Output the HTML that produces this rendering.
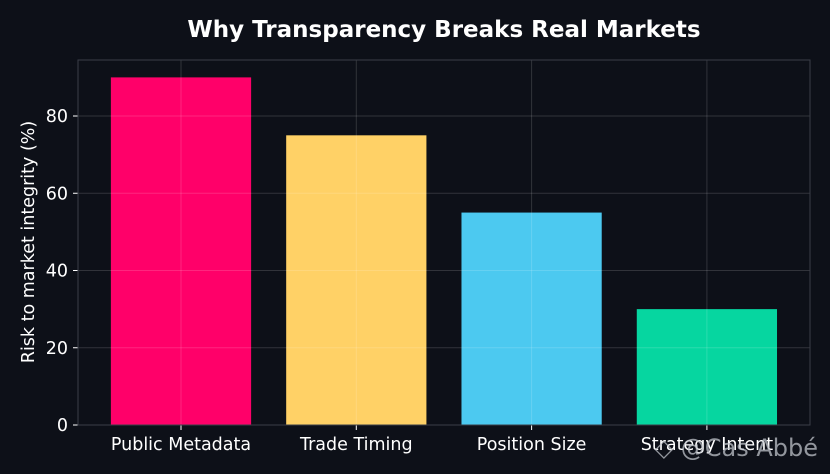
<!DOCTYPE html>
<html><head><meta charset="utf-8"><style>
body{margin:0;background:#0d1018;}
svg{display:block;font-family:"DejaVu Sans","Liberation Sans",sans-serif;}
</style></head><body>
<svg id="chart" width="830" height="474">
<rect width="830" height="474" fill="#0d1018"/>
<text x="444" y="37" fill="#fff" font-size="23" font-weight="bold" text-anchor="middle">Why Transparency Breaks Real Markets</text>
<g id="bars"></g><g id="grid"></g><g id="axes"></g>
<text transform="translate(34,242) rotate(-90)" fill="#fff" font-size="17.5" text-anchor="middle">Risk to market integrity (%)</text>
<text x="818" y="456" fill="#bfc3c9" fill-opacity="0.75" font-size="24" text-anchor="end">◇ @Cas Abbé</text>
</svg>
<script>
const categories=["Public Metadata","Trade Timing","Position Size","Strategy Intent"];
const values=[90,75,55,30];
const colors=["#ff0069","#ffd166","#4cc9f0","#06d6a0"];
const yTicks=[0,20,40,60,80];
const L=78,R=810,T=60,B=425,yMax=94.5;
const ns="http://www.w3.org/2000/svg";
const step=175.3;
function xs(i){return 181+i*step;}
function ys(v){return B-(v/yMax)*(B-T);}
function mk(t,a,p){const e=document.createElementNS(ns,t);for(const k in a)e.setAttribute(k,a[k]);p.appendChild(e);return e;}
const gb=document.getElementById('bars'),gg=document.getElementById('grid'),ga=document.getElementById('axes');
categories.forEach((c,i)=>{
 const w=step*0.8;
 const r=mk('rect',{x:xs(i)-w/2,y:ys(values[i]),width:w,height:ys(0)-ys(values[i]),fill:colors[i]},gb);
 
 
 const gl=mk('line',{x1:xs(i),x2:xs(i),y1:T,y2:B,stroke:'#ffffff','stroke-opacity':0.15,'stroke-width':1},gg);
 
 
 mk('line',{x1:xs(i),x2:xs(i),y1:B,y2:B+5,stroke:'#fff','stroke-width':1},ga);
 const t=mk('text',{x:xs(i),y:B+25,fill:'#fff','font-size':17.5,'text-anchor':'middle'},ga);
 t.textContent=c;
 
 
});
yTicks.forEach(v=>{
 const gl=mk('line',{x1:L,x2:R,y1:ys(v),y2:ys(v),stroke:'#ffffff','stroke-opacity':0.15,'stroke-width':1},gg);
 
 
 mk('line',{x1:L-5,x2:L,y1:ys(v),y2:ys(v),stroke:'#fff','stroke-width':1},ga);
 const t=mk('text',{x:L-10,y:ys(v)+6,fill:'#fff','font-size':17.5,'text-anchor':'end'},ga);
 t.textContent=v;
 
 
});
const sp=mk('rect',{x:L,y:T,width:R-L,height:B-T,fill:'none',stroke:'#3a3e48','stroke-width':1},ga);


</script>
</body></html>
